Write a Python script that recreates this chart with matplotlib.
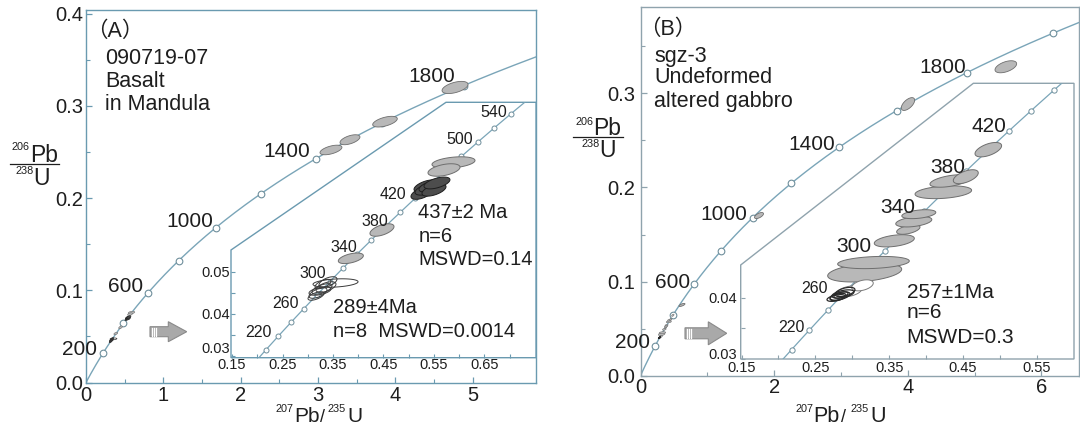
import numpy as np
import matplotlib
matplotlib.use("Agg")
import matplotlib.pyplot as plt
from matplotlib.patches import Polygon
from matplotlib.lines import Line2D

plt.rcParams['font.family'] = ['Liberation Sans', 'DejaVu Sans']
plt.rcParams['axes.unicode_minus'] = False

W, H = 1080, 425
PT = 100.0 / 72.0  # pixels per point
fig = plt.figure(figsize=(W / 100, H / 100), dpi=100)

# ------------------------------------------------------------------ data
LAMBDA_238 = 1.55125e-4   # 1/Ma
LAMBDA_235 = 9.8485e-4    # 1/Ma

main_marker_ages = [200, 400, 600, 800, 1000, 1200, 1400, 1600, 1800, 2000]
main_label_ages = [200, 600, 1000, 1400, 1800]

a_inset_marker_ages = [200, 220, 240, 260, 280, 300, 320, 340, 360, 380, 400,
                       420, 440, 460, 480, 500, 520, 540]
a_inset_label_ages = [220, 260, 300, 340, 380, 420, 500, 540]
b_inset_marker_ages = [200, 220, 240, 260, 280, 300, 320, 340, 360, 380, 400,
                       420, 440, 460]
b_inset_label_ages = [220, 260, 300, 340, 380, 420]

# Panel A : older grains on the main diagram
a_old_x = [3.169, 3.415, 3.868, 4.774]
a_old_sx = [0.142, 0.129, 0.159, 0.168]
a_old_y = [0.2522, 0.2633, 0.2829, 0.3200]
a_old_sy = [0.0052, 0.0054, 0.0058, 0.0066]
a_old_rho = [0.55, 0.55, 0.55, 0.5]

# Panel A : light grey ellipses (inset)
a_gray_x = [0.3853, 0.4470, 0.5886, 0.5698]
a_gray_sx = [0.0248, 0.0238, 0.0426, 0.0317]
a_gray_y = [0.05314, 0.05985, 0.07586, 0.07408]
a_gray_sy = [0.00125, 0.00148, 0.00135, 0.00148]
a_gray_rho = [0.5, 0.55, 0.35, 0.45]

# Panel A : dark ellipses, 437 +/- 2 Ma group
a_dark_x = [0.5262, 0.5342, 0.5381, 0.5460, 0.5500, 0.5559]
a_dark_sx = [0.0218, 0.0238, 0.0257, 0.0257, 0.0238, 0.0257]
a_dark_y = [0.06862, 0.07028, 0.06957, 0.07028, 0.06933, 0.07100]
a_dark_sy = [0.00150, 0.00145, 0.00145, 0.00145, 0.00145, 0.00140]
a_dark_rho = [0.55, 0.55, 0.55, 0.55, 0.55, 0.55]

# Panel A : open ellipses, 289 +/- 4 Ma group
a_open_x = [0.3550, 0.3203, 0.3282, 0.3361, 0.3302, 0.3163, 0.3401, 0.3243]
a_open_sx = [0.0446, 0.0178, 0.0198, 0.0198, 0.0158, 0.0158, 0.0178, 0.0218]
a_open_y = [0.04728, 0.04491, 0.04586, 0.04633, 0.04704, 0.04420, 0.04752, 0.04538]
a_open_sy = [0.00100, 0.00125, 0.00125, 0.00125, 0.00112, 0.00100, 0.00125, 0.00100]
a_open_rho = [0.3, 0.6, 0.6, 0.55, 0.6, 0.6, 0.55, 0.5]

# Panel B : older grains on the main diagram
b_old_x = [1.774, 4.004, 5.469, 0.621]
b_old_sx = [0.067, 0.100, 0.162, 0.045]
b_old_y = [0.1702, 0.2887, 0.3283, 0.0752]
b_old_sy = [0.0032, 0.0068, 0.0064, 0.0016]
b_old_rho = [0.6, 0.6, 0.5, 0.7]

# Panel B : light grey ellipses (inset)
b_gray_x = [0.3168, 0.3287, 0.3569, 0.3759, 0.3833, 0.3901, 0.4233, 0.4323, 0.4537, 0.4842]
b_gray_sx = [0.0501, 0.0485, 0.0271, 0.0158, 0.0244, 0.0230, 0.0383, 0.0271, 0.0169, 0.0180]
b_gray_y = [0.04414, 0.04577, 0.04932, 0.05117, 0.05245, 0.05368, 0.05727, 0.05911, 0.05981, 0.06423]
b_gray_sy = [0.00155, 0.00100, 0.00100, 0.00078, 0.00086, 0.00073, 0.00105, 0.00102, 0.00114, 0.00118]
b_gray_rho = [0.35, 0.25, 0.4, 0.5, 0.4, 0.4, 0.3, 0.5, 0.55, 0.55]

# Panel B : white ellipses
b_white_x = [0.2958, 0.3138]
b_white_sx = [0.0169, 0.0146]
b_white_y = [0.04106, 0.04204]
b_white_sy = [0.00090, 0.00090]
b_white_rho = [0.4, 0.4]

# Panel B : 257 +/- 1 Ma group (open, dark outline)
b_open_x = [0.2780, 0.2807, 0.2834, 0.2847, 0.2874, 0.2901]
b_open_sx = [0.0122, 0.0108, 0.0135, 0.0095, 0.0149, 0.0135]
b_open_y = [0.03997, 0.04013, 0.04029, 0.04046, 0.04062, 0.04095]
b_open_sy = [0.00055, 0.00060, 0.00068, 0.00052, 0.00068, 0.00076]
b_open_rho = [0.5, 0.5, 0.5, 0.5, 0.5, 0.5]

# axis ticks
a_xticks = [0, 1, 2, 3, 4, 5]
a_yticks = [0.0, 0.1, 0.2, 0.3, 0.4]
b_xticks = [0, 2, 4, 6]
b_yticks = [0.0, 0.1, 0.2, 0.3]
a_in_xticks = [0.15, 0.25, 0.35, 0.45, 0.55, 0.65]
a_in_yticks = [0.03, 0.04, 0.05]
b_in_xticks = [0.15, 0.25, 0.35, 0.45, 0.55]
b_in_yticks = [0.03, 0.04]

# -------------------------------------------------------------- styles
TXT = '#1e1e1e'
A_FRAME = '#6a9ab0'
B_FRAME = '#8fa3ad'
CURVE = '#7aa5b8'
MARK_EC = '#6f8f9c'
GRAY_FC = '#b8b8b8'
GRAY_EC = '#6e6e6e'


def conc(t):
    t = np.asarray(t, float)
    return np.exp(LAMBDA_235 * t) - 1.0, np.exp(LAMBDA_238 * t) - 1.0


def ell_xy(x, sx, y, sy, r, n=120):
    t = np.linspace(0, 2 * np.pi, n)
    return np.column_stack([x + sx * np.cos(t),
                            y + sy * (r * np.cos(t) + np.sqrt(1 - r * r) * np.sin(t))])


def draw_ellipses(ax, xs, sxs, ys, sys_, rhos, fc, ec, lw, clip=None, z=3):
    for x, sx, y, sy, r in zip(xs, sxs, ys, sys_, rhos):
        p = Polygon(ell_xy(x, sx, y, sy, r), closed=True, fc=fc, ec=ec, lw=lw, zorder=z)
        ax.add_patch(p)
        if clip is not None:
            p.set_clip_path(clip)


def fpos(px, py):
    return px / W, 1 - py / H


def ftxt(px, py, s, size, ha='left', va='baseline', **kw):
    x, y = fpos(px, py)
    fig.text(x, y, s, fontsize=size, ha=ha, va=va, color=TXT, **kw)


def fline(x0, x1, py, color=TXT, lw=0.9):
    a = fpos(x0, py)
    b = fpos(x1, py)
    fig.add_artist(Line2D([a[0], b[0]], [a[1], b[1]], color=color, lw=lw,
                          transform=fig.transFigure))


def axes_px(left, right, top, bottom):
    return fig.add_axes([left / W, 1 - bottom / H, (right - left) / W, (bottom - top) / H])


def label_ages(ax, ages, offsets, size):
    for age, (dx, dy) in zip(ages, offsets):
        cx, cy = conc(age)
        ax.annotate(str(age), xy=(float(cx), float(cy)), xytext=(dx / PT, dy / PT),
                    textcoords='offset points', ha='right', va='baseline',
                    fontsize=size, color=TXT, zorder=6, annotation_clip=False)


def style_main(ax, frame):
    for s in ax.spines.values():
        s.set_color(frame)
        s.set_linewidth(1.0)
    ax.tick_params(which='both', direction='in', color=frame, labelcolor=TXT,
                   top=False, right=False)
    ax.tick_params(which='major', length=4, width=0.9, labelsize=14.5)
    ax.tick_params(which='minor', length=3, width=0.8)


def arrow(x0, x1, yc, shaft_h, head_h, head_start):
    pts = [(x0, yc - shaft_h / 2), (head_start, yc - shaft_h / 2), (head_start, yc - head_h / 2),
           (x1, yc), (head_start, yc + head_h / 2), (head_start, yc + shaft_h / 2),
           (x0, yc + shaft_h / 2)]
    fp = [fpos(px, py) for px, py in pts]
    fig.add_artist(Polygon(fp, closed=True, fc='#a9a9a9', ec='#8a8a8a', lw=0.8,
                           transform=fig.transFigure))
    for k in range(3):
        xs = x0 + 1.5 + 2.2 * k
        a = fpos(xs, yc - shaft_h / 2 + 1)
        b = fpos(xs, yc + shaft_h / 2 - 1)
        fig.add_artist(Line2D([a[0], b[0]], [a[1], b[1]], color='white', lw=0.9,
                              transform=fig.transFigure))


t_curve = np.linspace(0, 2300, 600)
t_inset = np.linspace(150, 620, 300)

# ================================================================ Panel A
axA = axes_px(86, 536, 10, 382.5)
axA.set_xlim(0, (536 - 86) / 77.3)
axA.set_ylim(0, (382.5 - 10) / 922.0)
style_main(axA, A_FRAME)
cx, cy = conc(t_curve)
axA.plot(cx, cy, color=CURVE, lw=1.0, zorder=2)
mx, my = conc(main_marker_ages)
axA.plot(mx, my, 'o', ms=4.8, mfc='white', mec=MARK_EC, mew=0.8, zorder=4)
draw_ellipses(axA, a_old_x, a_old_sx, a_old_y, a_old_sy, a_old_rho, GRAY_FC, GRAY_EC, 0.6, z=5)
draw_ellipses(axA, a_gray_x, a_gray_sx, a_gray_y, a_gray_sy, a_gray_rho, GRAY_FC, GRAY_EC, 0.4, z=5)
draw_ellipses(axA, a_open_x, a_open_sx, a_open_y, a_open_sy, a_open_rho, 'none', '#333333', 0.5, z=5)
draw_ellipses(axA, a_dark_x, a_dark_sx, a_dark_y, a_dark_sy, a_dark_rho, '#4a4a4a', '#222222', 0.4, z=5)
axA.set_xticks(a_xticks, [str(v) for v in a_xticks])
axA.set_yticks(a_yticks, ['%.1f' % v for v in a_yticks])
axA.set_xticks(np.array(a_xticks[:-1]) + 0.5, minor=True)
axA.set_yticks(np.array(a_yticks[:-1]) + 0.05, minor=True)
axA.tick_params(axis='x', pad=2.5)
axA.tick_params(axis='y', pad=2.2)
label_ages(axA, main_label_ages, [(-6, -1.6), (-5, 0.9), (-2.7, 0.8), (-5.6, 1.8), (-8.2, 3.8)], 15)

# inset A
iA = axes_px(231, 536, 102.3, 357.7)
iA.set_xlim(0.15 + (231 - 232) / 505.0, 0.15 + (536 - 232) / 505.0)
iA.set_ylim(0.03 - (357.7 - 355.9) / 4217.0, 0.04 + (313.7 - 102.3) / 4217.0)
iA.patch.set_visible(False)
for s in iA.spines.values():
    s.set_visible(False)
hA, dA = 0.4217, 0.7049
polyA = Polygon([(0, 0), (0, hA), (dA, 1), (1, 1), (1, 0)], closed=True,
                transform=iA.transAxes, fc='white', ec=A_FRAME, lw=1.0, zorder=0.5,
                clip_on=False)
iA.add_patch(polyA)
cx, cy = conc(t_inset)
ln, = iA.plot(cx, cy, color=CURVE, lw=0.9, zorder=2)
ln.set_clip_path(polyA)
mx, my = conc(a_inset_marker_ages)
mk, = iA.plot(mx, my, 'o', ms=3.6, mfc='white', mec=MARK_EC, mew=0.7, zorder=4)
mk.set_clip_path(polyA)
draw_ellipses(iA, a_gray_x, a_gray_sx, a_gray_y, a_gray_sy, a_gray_rho, GRAY_FC, GRAY_EC, 0.7, polyA, z=5)
draw_ellipses(iA, a_dark_x, a_dark_sx, a_dark_y, a_dark_sy, a_dark_rho, '#4d4d4d', '#1e1e1e', 0.7, polyA, z=5)
draw_ellipses(iA, a_open_x, a_open_sx, a_open_y, a_open_sy, a_open_rho, 'none', '#3a3a3a', 0.7, polyA, z=5)
iA.set_xticks(a_in_xticks, ['%.2f' % v for v in a_in_xticks])
iA.set_xticks([0.2, 0.3, 0.4, 0.5, 0.6, 0.7], minor=True)
iA.set_yticks(a_in_yticks, ['%.2f' % v for v in a_in_yticks])
iA.set_yticks([0.035, 0.045], minor=True)
iA.tick_params(which='both', direction='in', color=A_FRAME, labelcolor=TXT,
               top=False, right=False, labelsize=10.5)
iA.tick_params(which='major', length=3, width=0.8)
iA.tick_params(which='minor', length=3, width=0.8)
iA.tick_params(axis='x', pad=0.5)
iA.tick_params(axis='y', pad=1.0)
iA.get_yticklabels()[0].set_va('bottom')
label_ages(iA, a_inset_label_ages,
           [(-6.6, -0.7), (-5, 0.6), (-3.8, 3.2), (-0.4, 2.3), (2.8, 0.3), (-8.3, -0.5),
            (-5, -1.7), (-4, -2.8)], 11.5)

# texts A
ftxt(86, 36.7, '（A）', 15.5, family=['Liberation Sans', 'Noto Sans CJK SC'])
ftxt(105, 64, '090719-07', 15.5)
ftxt(105, 87.3, 'Basalt', 15.5)
ftxt(105, 110, 'in Mandula', 15.5)
ftxt(418.3, 218, '437±2 Ma', 14.5)
ftxt(418.3, 241.5, 'n=6', 14.5)
ftxt(418.3, 265, 'MSWD=0.14', 14.5)
ftxt(333.3, 313.3, '289±4Ma', 14.5)
ftxt(333.3, 336.7, 'n=8  MSWD=0.0014', 14.5)
# axis titles A
ftxt(30, 150, '206', 7.8, ha='right')
ftxt(30, 162, 'Pb', 16.5)
fline(10, 59, 164)
ftxt(33.3, 174, '238', 7.8, ha='right')
ftxt(33.3, 185, 'U', 16.5)
ftxt(294, 411.7, '207', 7.8, ha='right')
ftxt(294, 421.5, 'Pb', 15)
ftxt(320, 421.5, '/', 13)
ftxt(327.7, 411.7, '235', 7.8)
ftxt(347.5, 421.5, 'U', 15)
arrow(150, 186.7, 331.7, 10, 20, 168.3)

# ================================================================ Panel B
axB = axes_px(640.5, 1079, 6.7, 375.7)
axB.set_xlim(0, (1079 - 640.5) / 66.8)
axB.set_ylim(0, (375.7 - 6.7) / 941.0)
style_main(axB, B_FRAME)
cx, cy = conc(t_curve)
axB.plot(cx, cy, color=CURVE, lw=1.0, zorder=2)
mx, my = conc(main_marker_ages)
axB.plot(mx, my, 'o', ms=4.8, mfc='white', mec=MARK_EC, mew=0.8, zorder=4)
draw_ellipses(axB, b_old_x, b_old_sx, b_old_y, b_old_sy, b_old_rho, GRAY_FC, GRAY_EC, 0.6, z=5)
draw_ellipses(axB, b_gray_x, b_gray_sx, b_gray_y, b_gray_sy, b_gray_rho, GRAY_FC, GRAY_EC, 0.4, z=5)
draw_ellipses(axB, b_white_x, b_white_sx, b_white_y, b_white_sy, b_white_rho, 'white', '#555555', 0.4, z=5)
draw_ellipses(axB, b_open_x, b_open_sx, b_open_y, b_open_sy, b_open_rho, '#555555', '#222222', 0.5, z=5)
axB.set_xticks(b_xticks, [str(v) for v in b_xticks])
axB.set_yticks(b_yticks, ['%.1f' % v for v in b_yticks])
axB.set_xticks([1, 3, 5], minor=True)
axB.set_yticks([0.05, 0.15, 0.25, 0.35], minor=True)
axB.tick_params(axis='x', pad=2.0)
axB.tick_params(axis='y', pad=4.0)
label_ages(axB, main_label_ages, [(-5, -2.3), (-4.3, -4.4), (-5.5, -2.2), (-4, -2.6), (-1, -0.7)], 15)

# inset B
iB = axes_px(740.7, 1074, 83.3, 359)
iB.set_xlim(0.15 + (740.7 - 741.5) / 738.5, 0.15 + (1074 - 741.5) / 738.5)
iB.set_ylim(0.04 - (359 - 297.8) / 6113.0, 0.04 + (297.8 - 83.3) / 6113.0)
iB.patch.set_visible(False)
for s in iB.spines.values():
    s.set_visible(False)
hB, dB = 0.341, 0.698
polyB = Polygon([(0, 0), (0, hB), (dB, 1), (1, 1), (1, 0)], closed=True,
                transform=iB.transAxes, fc='white', ec=B_FRAME, lw=1.0, zorder=0.5,
                clip_on=False)
iB.add_patch(polyB)
cx, cy = conc(t_inset)
ln, = iB.plot(cx, cy, color=CURVE, lw=0.9, zorder=2)
ln.set_clip_path(polyB)
mx, my = conc(b_inset_marker_ages)
mk, = iB.plot(mx, my, 'o', ms=3.8, mfc='white', mec=MARK_EC, mew=0.7, zorder=4)
mk.set_clip_path(polyB)
draw_ellipses(iB, b_gray_x, b_gray_sx, b_gray_y, b_gray_sy, b_gray_rho, GRAY_FC, GRAY_EC, 0.7, polyB, z=5)
draw_ellipses(iB, b_white_x, b_white_sx, b_white_y, b_white_sy, b_white_rho, 'white', '#7a7a7a', 0.7, polyB, z=5)
draw_ellipses(iB, b_open_x, b_open_sx, b_open_y, b_open_sy, b_open_rho, 'none', '#2a2a2a', 0.9, polyB, z=5)
iB.set_xticks(b_in_xticks, ['%.2f' % v for v in b_in_xticks])
iB.set_xticks([0.2, 0.3, 0.4, 0.5], minor=True)
iB.set_yticks(b_in_yticks, ['%.2f' % v for v in b_in_yticks])
iB.set_yticks([0.035], minor=True)
iB.tick_params(which='both', direction='in', color=B_FRAME, labelcolor=TXT,
               top=False, right=False, labelsize=10.5)
iB.tick_params(which='major', length=3, width=0.8)
iB.tick_params(which='minor', length=3, width=0.8)
iB.tick_params(axis='x', pad=1.5)
iB.tick_params(axis='y', pad=3.0)
iB.get_yticklabels()[0].set_va('baseline')
for age, off, sz in zip(b_inset_label_ages,
                        [(-4.3, -1.7), (-18, -2.6), (-13, -0.6), (-9.4, -2.1), (-1, -2.3), (-3, -0.9)],
                        [11.5, 11.5, 15, 15, 15, 15]):
    label_ages(iB, [age], [off], sz)

# texts B
ftxt(639, 35, '（B）', 15.5, family=['Liberation Sans', 'Noto Sans CJK SC'])
ftxt(654.3, 61.7, 'sgz-3', 15.5)
ftxt(654.3, 83.3, 'Undeformed', 15.5)
ftxt(654.3, 106.7, 'altered gabbro', 15.5)
ftxt(906.7, 298.3, '257±1Ma', 15)
ftxt(906.7, 318.3, 'n=6', 15)
ftxt(906.7, 343.3, 'MSWD=0.3', 15)
ftxt(593.3, 125, '206', 7.8, ha='right')
ftxt(593.3, 135, 'Pb', 16.5)
fline(573.3, 623.3, 137)
ftxt(599.3, 147, '238', 7.8, ha='right')
ftxt(599.3, 157.3, 'U', 16.5)
ftxt(813.3, 411.7, '207', 7.8, ha='right')
ftxt(813.3, 421.5, 'Pb', 15.5)
ftxt(841, 421.5, '/', 13)
ftxt(850, 411.7, '235', 7.8)
ftxt(870, 421.5, 'U', 15.5)
arrow(685, 726.7, 333.3, 11, 23, 708.3)

fig.savefig('out.png', dpi=100)
